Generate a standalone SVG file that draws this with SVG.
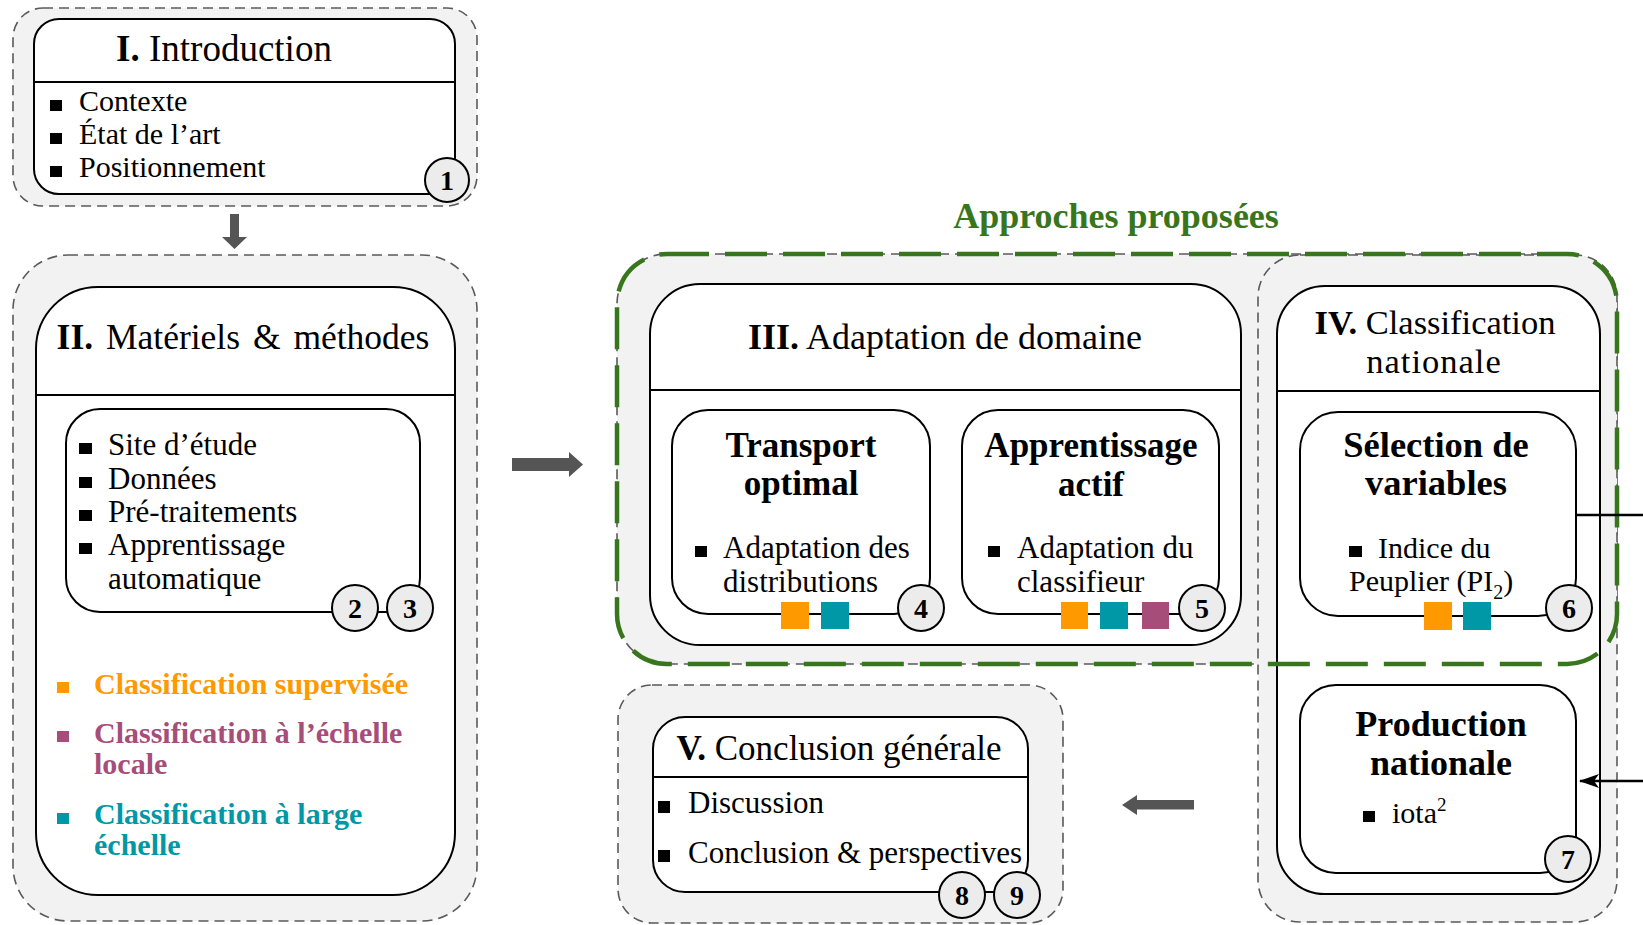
<svg xmlns="http://www.w3.org/2000/svg" width="1643" height="925" viewBox="0 0 1643 925">
<style>
.dash{fill:#f2f2f2;stroke:#5a5a5a;stroke-width:1.6;stroke-dasharray:10 6}
.box{fill:#fff;stroke:#000;stroke-width:2}
.sep{stroke:#000;stroke-width:1.8}
.num circle{fill:#ececec;stroke:#000;stroke-width:2}
.num text{font-family:"Liberation Serif","DejaVu Serif",serif;font-size:28px;font-weight:bold;text-anchor:middle;fill:#000}
text{font-family:"Liberation Serif","DejaVu Serif",serif;fill:#000}
.ttl{text-anchor:middle}
.b{font-weight:bold}
.item{font-size:31px}
.bul{fill:#000}
.or{fill:#ff9900}
.te{fill:#0097a7}
.ma{fill:#a64d79}
.arr{fill:#555}
</style>
<defs>
<marker id="head" viewBox="0 0 20 16" refX="19" refY="8" markerWidth="20" markerHeight="16" markerUnits="userSpaceOnUse" orient="auto">
<path d="M20,8 L0,1 L5,8 L0,15 Z" fill="#000"/>
</marker>
</defs>

<!-- Background containers -->
<rect id="grp-III-outer" class="dash" x="617" y="254" width="1000" height="410" rx="50"/>
<rect id="grp-IV-outer" class="dash" x="1258" y="255" width="359" height="667" rx="42"/>

<!-- Section I -->
<g id="sec-I">
<rect class="dash" x="13" y="8" width="464" height="198" rx="30"/>
<rect class="box" x="34" y="19" width="421" height="175" rx="25"/>
<line class="sep" x1="34" y1="82" x2="455" y2="82"/>
<text class="ttl" x="224" y="61" font-size="37"><tspan class="b">I.</tspan> Introduction</text>
<rect class="bul" x="50" y="100" width="12" height="11"/>
<rect class="bul" x="50" y="133" width="12" height="11"/>
<rect class="bul" x="50" y="166" width="12" height="11"/>
<text x="79" y="111" font-size="30">Contexte</text>
<text x="79" y="144" font-size="30">État de l’art</text>
<text x="79" y="177" font-size="30">Positionnement</text>
<g class="num"><circle cx="447" cy="180" r="22"/><text x="447" y="190">1</text></g>
</g>

<!-- Section II -->
<g id="sec-II">
<rect class="dash" x="13" y="255" width="464" height="666" rx="55"/>
<rect class="box" x="36" y="287" width="419" height="608" rx="62"/>
<line class="sep" x1="36" y1="395" x2="455" y2="395"/>
<text class="ttl" x="243" y="349" font-size="35.5" word-spacing="4"><tspan class="b">II.</tspan> Matériels &amp; méthodes</text>
<rect class="box" x="66" y="409" width="354" height="203" rx="34"/>
<rect class="bul" x="79" y="443" width="13" height="11"/>
<rect class="bul" x="79" y="477" width="13" height="11"/>
<rect class="bul" x="79" y="510" width="13" height="11"/>
<rect class="bul" x="79" y="543" width="13" height="11"/>
<text class="item" x="108" y="455">Site d’étude</text>
<text class="item" x="108" y="489">Données</text>
<text class="item" x="108" y="522">Pré-traitements</text>
<text class="item" x="108" y="555">Apprentissage</text>
<text class="item" x="108" y="589">automatique</text>
<g class="num"><circle cx="355" cy="608" r="23"/><text x="355" y="618">2</text></g>
<g class="num"><circle cx="410" cy="608" r="23"/><text x="410" y="618">3</text></g>
<rect class="or" x="57" y="682" width="12" height="11"/>
<text class="b" x="94" y="694" font-size="30" style="fill:#ff9900">Classification supervisée</text>
<rect class="ma" x="57" y="731" width="12" height="11"/>
<text class="b" x="94" y="743" font-size="30" style="fill:#a64d79">Classification à l’échelle</text>
<text class="b" x="94" y="774" font-size="30" style="fill:#a64d79">locale</text>
<rect class="te" x="57" y="813" width="12" height="11"/>
<text class="b" x="94" y="824" font-size="30" style="fill:#0097a7">Classification à large</text>
<text class="b" x="94" y="855" font-size="30" style="fill:#0097a7">échelle</text>
</g>

<!-- Section III -->
<g id="sec-III">
<rect class="box" x="650" y="284" width="591" height="361" rx="50"/>
<line class="sep" x1="650" y1="390" x2="1241" y2="390"/>
<text class="ttl" x="945" y="349" font-size="36"><tspan class="b">III.</tspan> Adaptation de domaine</text>
</g>
<g id="node-transport">
<rect class="box" x="672" y="410" width="258" height="204" rx="36"/>
<text class="ttl b" x="801" y="457" font-size="35">Transport</text>
<text class="ttl b" x="801" y="495" font-size="35">optimal</text>
<rect class="bul" x="695" y="546" width="12" height="11"/>
<text class="item" x="723" y="558">Adaptation des</text>
<text class="item" x="723" y="592">distributions</text>
<rect class="or" x="781" y="602" width="28" height="27"/>
<rect class="te" x="821" y="602" width="28" height="27"/>
<g class="num"><circle cx="921" cy="608" r="23"/><text x="921" y="618">4</text></g>
</g>
<g id="node-actif">
<rect class="box" x="962" y="410" width="257" height="204" rx="36"/>
<text class="ttl b" x="1091" y="457" font-size="35">Apprentissage</text>
<text class="ttl b" x="1091" y="496" font-size="35">actif</text>
<rect class="bul" x="988" y="546" width="12" height="11"/>
<text class="item" x="1017" y="558">Adaptation du</text>
<text class="item" x="1017" y="592">classifieur</text>
<rect class="or" x="1061" y="602" width="27" height="27"/>
<rect class="te" x="1100" y="602" width="28" height="27"/>
<rect class="ma" x="1142" y="602" width="27" height="27"/>
<g class="num"><circle cx="1202" cy="608" r="23"/><text x="1202" y="618">5</text></g>
</g>

<!-- Section IV -->
<g id="sec-IV">
<rect class="box" x="1277" y="286" width="323" height="608" rx="48"/>
<line class="sep" x1="1277" y1="391" x2="1600" y2="391"/>
<text class="ttl" x="1435" y="334" font-size="34.5"><tspan class="b">IV.</tspan> Classification</text>
<text class="ttl" x="1434" y="373" font-size="34.5" letter-spacing="1">nationale</text>
</g>
<g id="node-selection">
<rect class="box" x="1300" y="412" width="276" height="204" rx="38"/>
<text class="ttl b" x="1436" y="457" font-size="36.5">Sélection de</text>
<text class="ttl b" x="1436" y="495" font-size="36.5">variables</text>
<rect class="bul" x="1349" y="546" width="13" height="11"/>
<text x="1378" y="558" font-size="30">Indice du</text>
<text x="1349" y="591" font-size="30">Peuplier (PI<tspan font-size="20" dy="8">2</tspan><tspan dy="-8">)</tspan></text>
<rect class="or" x="1424" y="602" width="28" height="28"/>
<rect class="te" x="1463" y="602" width="28" height="28"/>
<g class="num"><circle cx="1569" cy="608" r="23"/><text x="1569" y="618">6</text></g>
</g>
<g id="node-production">
<rect class="box" x="1300" y="685" width="276" height="188" rx="36"/>
<text class="ttl b" x="1441" y="736" font-size="36">Production</text>
<text class="ttl b" x="1441" y="775" font-size="36">nationale</text>
<rect class="bul" x="1363" y="811" width="12" height="11"/>
<text x="1392" y="823" font-size="30">iota<tspan font-size="19" dy="-12">2</tspan></text>
<g class="num"><circle cx="1568" cy="859" r="23"/><text x="1568" y="869">7</text></g>
</g>

<!-- Proposed approaches frame -->
<g id="approches">
<rect x="617" y="254" width="1000" height="410" rx="50" fill="none" stroke="#38761d" stroke-width="4.5" stroke-dasharray="42 16"/>
<text class="ttl b" x="1116" y="228" font-size="36" style="fill:#38761d">Approches proposées</text>
</g>

<!-- Section V -->
<g id="sec-V">
<rect class="dash" x="618" y="685" width="445" height="238" rx="34"/>
<rect class="box" x="653" y="717" width="375" height="175" rx="32"/>
<line class="sep" x1="653" y1="777" x2="1028" y2="777"/>
<text class="ttl" x="839" y="760" font-size="35"><tspan class="b">V.</tspan> Conclusion générale</text>
<rect class="bul" x="658" y="801" width="12" height="12"/>
<rect class="bul" x="658" y="850" width="12" height="12"/>
<text class="item" x="688" y="813">Discussion</text>
<text class="item" x="688" y="863">Conclusion &amp; perspectives</text>
<g class="num"><circle cx="962" cy="895" r="23"/><text x="962" y="905">8</text></g>
<g class="num"><circle cx="1017" cy="895" r="23"/><text x="1017" y="905">9</text></g>
</g>

<!-- Connectors -->
<g id="connectors">
<polygon class="arr" points="230,214 239,214 239,237 247,237 234.5,249 222,237 230,237"/>
<polygon class="arr" points="512,458 569,458 569,452 583,464.5 569,477 569,471 512,471"/>
<polygon class="arr" points="1194,800 1137,800 1137,795 1122,805 1137,815 1137,809.5 1194,809.5"/>
<line x1="1576" y1="515" x2="1643" y2="515" stroke="#000" stroke-width="2.5"/>
<line x1="1643" y1="781" x2="1580" y2="781" stroke="#000" stroke-width="2.5" marker-end="url(#head)"/>
</g>
</svg>
